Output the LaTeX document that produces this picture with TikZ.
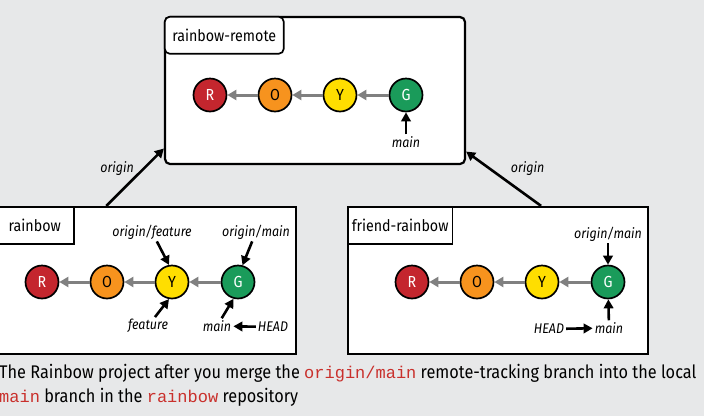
\documentclass[tikz,border=0pt]{standalone}
\usepackage{fontspec}
\setmainfont[FakeStretch=0.89]{Fira Sans}
\setmonofont{Liberation Mono}
\usetikzlibrary{arrows.meta}
\definecolor{bggray}{HTML}{E7E8E9}
\definecolor{cred}{HTML}{C4262E}
\definecolor{corange}{HTML}{F7931E}
\definecolor{cyellow}{HTML}{FFDE00}
\definecolor{cgreen}{HTML}{1A9B5A}
\definecolor{codered}{HTML}{C9302C}
\newcommand{\code}[1]{{\ttfamily\color{codered}\fontsize{17}{21}\selectfont #1}}

\begin{document}
\begin{tikzpicture}[x=1pt,y=-1pt,
  commit/.style={circle,draw=black,line width=1.7pt,minimum size=33pt,inner sep=0pt,font=\fontsize{16}{16}\selectfont},
  repo/.style={draw=black,line width=2.2pt,fill=white},
  tag/.style={draw=black,line width=1.7pt,fill=white,font=\fontsize{16}{19}\selectfont,minimum height=37pt,anchor=north west,inner sep=4pt},
  ref/.style={font=\itshape\fontsize{14}{16}\selectfont,inner sep=2pt},
  parent/.style={-{Triangle[length=9pt,width=10pt]},draw=gray,line width=3pt},
  ptr/.style={-{Triangle[length=9pt,width=9.5pt]},line width=2.6pt},
  caption/.style={anchor=base west,inner sep=0pt,font=\fontsize{18.3}{21}\selectfont}]
\fill[bggray] (0,0) rectangle (704,416);
\useasboundingbox (0,0) rectangle (704,416);

% the three repositories
\node[repo,rounded corners=5pt,minimum width=300pt,minimum height=147pt] (remote) at (315,90.5) {};
\node[tag,rounded corners=5pt,minimum width=119pt] (remotetag) at (remote.north west) {rainbow-remote};
\node[repo,minimum width=300pt,minimum height=147pt] (rainbow) at (146,280.5) {};
\node[tag,minimum width=78pt] (rainbowtag) at (rainbow.north west) {rainbow};
\node[repo,minimum width=300pt,minimum height=147pt] (friend) at (498,280.5) {};
\node[tag,minimum width=101pt] (friendtag) at (friend.north west) {friend-rainbow};

\draw[ptr] (rainbow.118) -- (remote.201) node[ref,midway,above left=0pt,xshift=2pt,yshift=-2pt] {origin};
\draw[ptr] (friend.60) -- (remote.-22) node[ref,midway,above right=0pt,xshift=4pt] {origin};

% rainbow-remote
\node[commit,fill=cred,text=white] (tR) at (210,95) {R};
\node[commit,fill=corange] (tO) at (275,95) {O};
\node[commit,fill=cyellow] (tY) at (340,95) {Y};
\node[commit,fill=cgreen,text=white] (tG) at (406,95) {G};
\draw[parent] (tO) -- (tR);
\draw[parent] (tY) -- (tO);
\draw[parent] (tG) -- (tY);
\node[ref] (tmain) at (406,142) {main};
\draw[ptr] (tmain) -- (tG);

% rainbow
\node[commit,fill=cred,text=white] (lR) at (42,282) {R};
\node[commit,fill=corange] (lO) at (107,282) {O};
\node[commit,fill=cyellow] (lY) at (172,282) {Y};
\node[commit,fill=cgreen,text=white] (lG) at (238,282) {G};
\draw[parent] (lO) -- (lR);
\draw[parent] (lY) -- (lO);
\draw[parent] (lG) -- (lY);
\node[ref] (lof) at (152,232) {origin/feature};
\node[ref] (lom) at (256,232) {origin/main};
\node[ref] (lfeat) at (148,326) {feature};
\node[ref] (lmain) at (217,326) {main};
\node[ref] (lhead) at (273,327) {HEAD};
\draw[ptr] (lof) -- (lY.100);
\draw[ptr] (lom) -- (lG.75);
\draw[ptr] (lfeat) -- (lY.260);
\draw[ptr] (lmain) -- (lG.255);
\draw[ptr] (lhead) -- (lmain);

% friend-rainbow
\node[commit,fill=cred,text=white] (fR) at (412,282) {R};
\node[commit,fill=corange] (fO) at (477,282) {O};
\node[commit,fill=cyellow] (fY) at (542,282) {Y};
\node[commit,fill=cgreen,text=white] (fG) at (608,282) {G};
\draw[parent] (fO) -- (fR);
\draw[parent] (fY) -- (fO);
\draw[parent] (fG) -- (fY);
\node[ref] (fom) at (608,234) {origin/main};
\node[ref] (fmain) at (609,328) {main};
\node[ref] (fhead) at (549,329) {HEAD};
\draw[ptr] (fom) -- (fG);
\draw[ptr] (fmain) -- (fG);
\draw[ptr] (fhead) -- (fmain);

% caption
\node[caption] (cap1) at (-1,378) {The Rainbow project after you merge the \code{origin/main} remote-tracking branch into the local};
\node[caption] (cap2) at (-1,402) {\code{main} branch in the \code{rainbow} repository};
\end{tikzpicture}
\end{document}
